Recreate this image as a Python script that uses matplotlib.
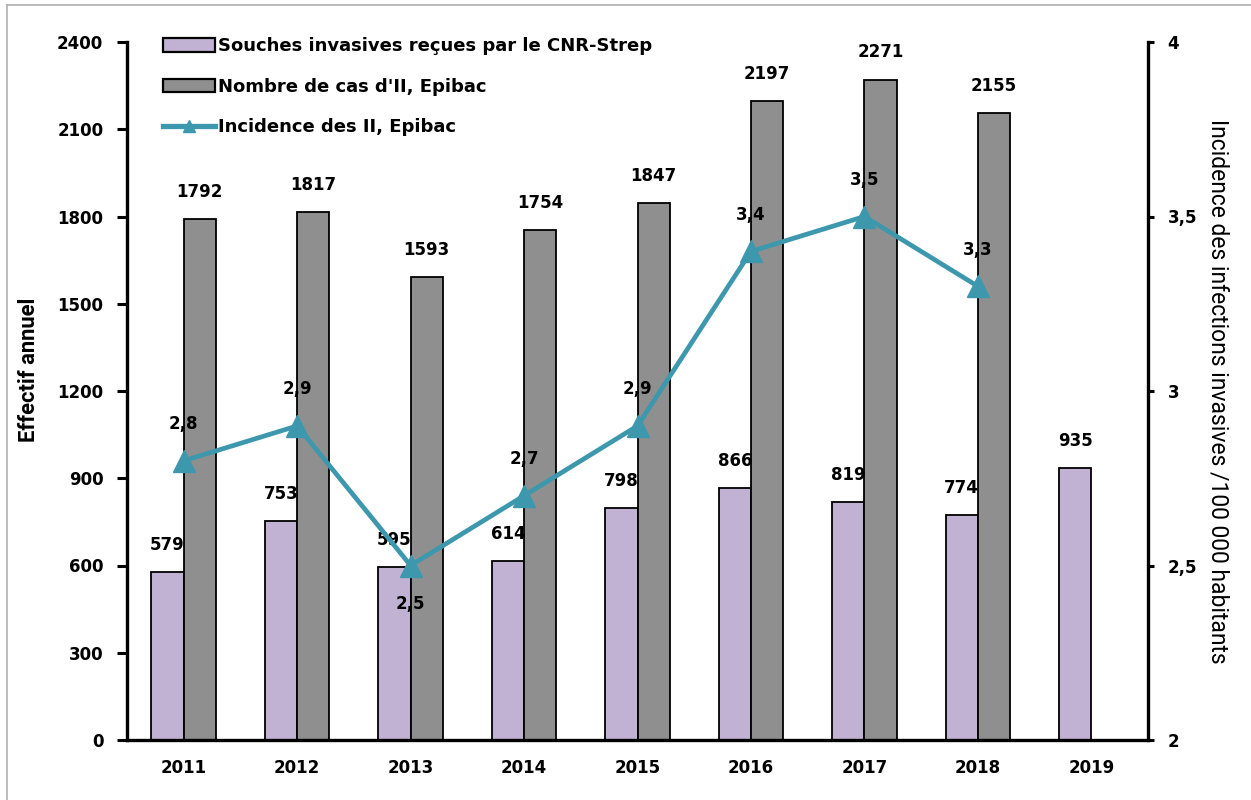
import matplotlib
matplotlib.use("Agg")
import matplotlib.pyplot as plt
from matplotlib.patches import Patch
from matplotlib.lines import Line2D
import numpy as np

plt.rcParams['font.family'] = ['DejaVu Sans']

years = ['2011', '2012', '2013', '2014', '2015', '2016', '2017', '2018', '2019']
souches_cnr = [579, 753, 595, 614, 798, 866, 819, 774, 935]
cas_epibac = [1792, 1817, 1593, 1754, 1847, 2197, 2271, 2155, None]
incidence = [2.8, 2.9, 2.5, 2.7, 2.9, 3.4, 3.5, 3.3, None]
incidence_label_below = [False, False, True, False, False, False, False, False, None]

purple = '#c1b2d3'
gray = '#8f8f8f'
teal = '#3d98ae'
narrow = ['Roboto', 'DejaVu Sans']

fig = plt.figure(figsize=(12.51, 8), dpi=100)
ax = fig.add_axes([0.1015, 0.075, 0.8162, 0.8725])
ax2 = ax.twinx()

x = np.arange(len(years))
w = 0.285
fs = 12
label_kw = dict(fontsize=fs, fontweight='bold', ha='center', va='bottom',
                textcoords='offset points')

for i, v in enumerate(souches_cnr):
    ax.bar(x[i] - w / 2, v, width=w, color=purple, edgecolor='black', linewidth=1.3, zorder=2)
    ax.annotate(str(v), (x[i] - w / 2, v), xytext=(0, 13), **label_kw)
for i, v in enumerate(cas_epibac):
    if v is None:
        continue
    ax.bar(x[i] + w / 2, v, width=w, color=gray, edgecolor='black', linewidth=1.3, zorder=2)
    ax.annotate(str(v), (x[i] + w / 2, v), xytext=(0, 13), **label_kw)

xi = [x[i] for i, v in enumerate(incidence) if v is not None]
yi = [v for v in incidence if v is not None]
ax2.plot(xi, yi, color=teal, linewidth=3.4, marker='^', markersize=16,
         markeredgecolor=teal, zorder=5)
for xx, v, below in zip(xi, yi, incidence_label_below):
    txt = f'{v:.1f}'.replace('.', ',')
    if below:
        ax2.annotate(txt, (xx, v), xytext=(0, -21), textcoords='offset points',
                     fontsize=fs, fontweight='bold', ha='center', va='top')
    else:
        ax2.annotate(txt, (xx, v), xytext=(0, 20), textcoords='offset points',
                     fontsize=fs, fontweight='bold', ha='center', va='bottom')

ax.set_xlim(-0.5, len(years) - 0.5)
ax.set_ylim(0, 2400)
ax.set_yticks(np.arange(0, 2401, 300))
ax.set_xticks(x)
ax.set_xticklabels(years, fontsize=fs, fontweight='bold')
ax.tick_params(axis='x', length=0, pad=14)
ax.tick_params(axis='y', direction='out', length=7, width=2.2, labelsize=fs, pad=10)
for lab in ax.get_yticklabels():
    lab.set_fontweight('bold')

ax2.set_ylim(2, 4)
ax2.set_yticks([2, 2.5, 3, 3.5, 4])
ax2.set_yticklabels(['2', '2,5', '3', '3,5', '4'], fontsize=fs, fontweight='bold')
ax2.tick_params(axis='y', direction='out', length=4, width=2.2, pad=10)

for a in (ax, ax2):
    a.spines['top'].set_visible(False)
    for s in ('left', 'right', 'bottom'):
        a.spines[s].set_linewidth(2.4)
ax.spines['right'].set_visible(False)
ax2.spines['left'].set_visible(False)
ax2.spines['bottom'].set_visible(False)

ax.set_ylabel('Effectif annuel', fontsize=15.8, fontweight='bold', family=narrow)
ax.yaxis.set_label_coords(-0.085, 0.53)
ax2.set_ylabel('Incidence des infections invasives /100 000 habitants',
               fontsize=16.5, family=narrow, rotation=-90, va='bottom', labelpad=7)

handles = [
    Patch(facecolor=purple, edgecolor='black', linewidth=1.6, label='Souches invasives reçues par le CNR-Strep'),
    Patch(facecolor=gray, edgecolor='black', linewidth=1.6, label="Nombre de cas d'II, Epibac"),
    Line2D([0], [0], color=teal, linewidth=3.8, marker='^', markersize=9, label='Incidence des II, Epibac'),
]
leg = ax.legend(handles=handles, loc='upper left', bbox_to_anchor=(0.019, 1.03),
                frameon=False, prop={'weight': 'bold', 'size': 13},
                handlelength=2.9, handleheight=0.75, handletextpad=0.15, labelspacing=1.25)

# thin grey frame lines along the left and top of the figure
fig.add_artist(Line2D([7 / 1251, 7 / 1251], [0, 1 - 5 / 800], transform=fig.transFigure,
                      color='#b0b0b0', linewidth=1.2))
fig.add_artist(Line2D([7 / 1251, 1], [1 - 5 / 800, 1 - 5 / 800], transform=fig.transFigure,
                      color='#b0b0b0', linewidth=1.2))

fig.savefig('out.png', dpi=100)
